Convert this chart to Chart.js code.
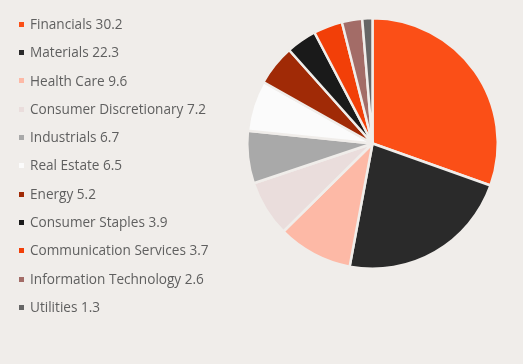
<!DOCTYPE html>
<html>
<head>
<meta charset="utf-8">
<script src="https://cdn.jsdelivr.net/npm/chart.js@4"></script>
<style>
  html, body { margin: 0; padding: 0; background: #f0edea; }
  #wrap { position: relative; width: 523px; height: 364px; overflow: hidden; }
  #pie { position: absolute; left: 0; top: 0; }
  #legend { position: absolute; left: 19px; top: 10px; margin: 0; padding: 0; list-style: none;
            font-family: "Open Sans", "Noto Sans", sans-serif; font-size: 13.6px; color: #5f5f5f; }
  #legend li { height: 28.3px; line-height: 28.3px; white-space: nowrap; }
  #legend span { display: inline-block; width: 5px; height: 5px; margin-right: 6px; vertical-align: middle; position: relative; top: -1px; }
</style>
</head>
<body>
<div id="wrap">
  <canvas id="pie" width="523" height="364"></canvas>
  <ul id="legend"></ul>
</div>
<script>
// sectores y pesos (%)
const sectores = ['Financials', 'Materials', 'Health Care', 'Consumer Discretionary', 'Industrials',
  'Real Estate', 'Energy', 'Consumer Staples', 'Communication Services', 'Information Technology', 'Utilities'];
const pesos = [30.2, 22.3, 9.6, 7.2, 6.7, 6.5, 5.2, 3.9, 3.7, 2.6, 1.3];
const colores = ['#fb4f17', '#2a2a2a', '#fdb9a6', '#eadddc', '#a9a9a9', '#fbfbfb',
  '#a02a06', '#1a1a1a', '#f23f08', '#a36c67', '#666666'];

// leyenda en HTML
const ul = document.getElementById('legend');
ul.innerHTML = sectores.map((s, i) =>
  `<li><span style="background:${colores[i]}"></span>${s} ${pesos[i]}</li>`).join('');

new Chart(document.getElementById('pie'), {
  type: 'pie',
  data: {
    labels: sectores,
    datasets: [{
      data: pesos,
      backgroundColor: colores,
      borderColor: '#f0edea',
      borderWidth: 2.5
    }]
  },
  options: {
    responsive: false,
    animation: false,
    layout: { padding: { left: 246, right: 24, top: 16, bottom: 93 } },
    plugins: {
      legend: { display: false },
      tooltip: { enabled: false }
    }
  }
});
</script>
</body>
</html>
